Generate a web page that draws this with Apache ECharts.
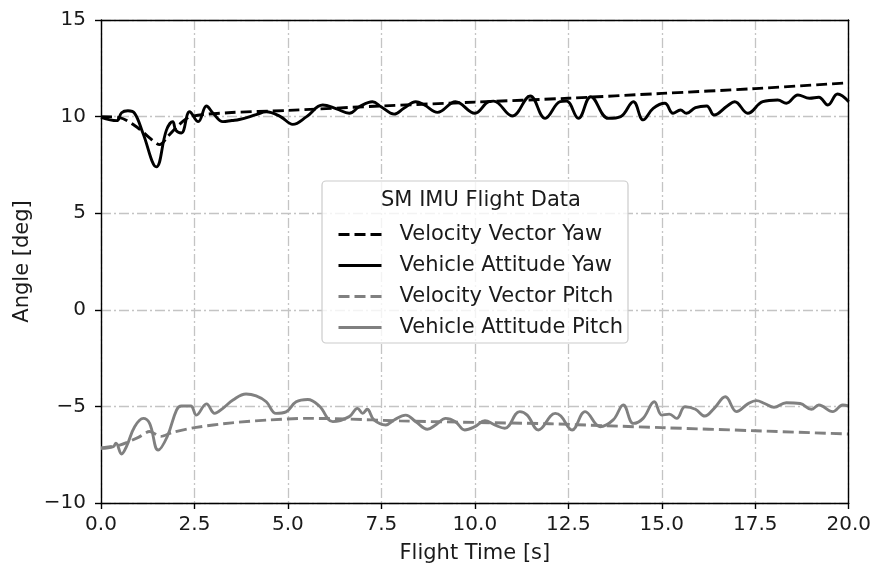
<!DOCTYPE html>
<html>
<head>
<meta charset="utf-8">
<script src="https://cdn.jsdelivr.net/npm/echarts@6/dist/echarts.min.js"></script>
<style>
html,body{margin:0;padding:0;background:#fff;}
#c{width:874px;height:570px;}
</style>
</head>
<body>
<div id="c"></div>
<script>
// ---- Data ----
const legendTitle = 'SM IMU Flight Data';
const seriesNames = ['Velocity Vector Yaw','Vehicle Attitude Yaw','Velocity Vector Pitch','Vehicle Attitude Pitch'];
const xTickLabels = ['0.0','2.5','5.0','7.5','10.0','12.5','15.0','17.5','20.0'];
const yTickLabels = ['\u221210','\u22125','0','5','10','15'];

const velYawT = [0, 0.5, 1.0, 1.3, 1.57, 1.8, 2.1, 2.4, 3.4, 5.0, 7.5, 10.0, 12.5, 15.0, 17.5, 20.0];
const velYawV = [10.0, 9.95, 9.4, 8.9, 8.55, 9.0, 9.6, 10.0, 10.2, 10.32, 10.55, 10.75, 10.95, 11.2, 11.45, 11.75];

const attYawT = [0, 0.42, 0.55, 0.72, 0.9, 1.12, 1.48, 1.75, 1.92, 2.0, 2.15, 2.37, 2.6, 2.82, 3.0, 3.26, 3.5, 3.7, 4.15, 4.42, 4.8, 5.13, 5.5, 5.93, 6.3, 6.64, 6.9, 7.26, 7.5, 7.84, 8.1, 8.42, 8.65, 9.0, 9.48, 10.0, 10.37, 10.5, 11.0, 11.48, 11.88, 12.28, 12.45, 12.77, 13.1, 13.57, 13.9, 14.24, 14.5, 14.77, 15.08, 15.3, 15.5, 15.66, 15.9, 16.2, 16.4, 16.75, 16.95, 17.3, 17.7, 18.1, 18.33, 18.64, 18.95, 19.2, 19.44, 19.7, 20.0];
const attYawV = [9.96, 9.79, 10.2, 10.3, 10.17, 9.15, 7.4, 9.3, 9.74, 9.3, 9.15, 10.25, 9.74, 10.55, 10.17, 9.74, 9.8, 9.85, 10.1, 10.25, 10.0, 9.6, 10.0, 10.6, 10.4, 10.17, 10.5, 10.77, 10.5, 10.13, 10.43, 10.77, 10.6, 10.22, 10.77, 10.17, 10.77, 10.8, 10.03, 11.07, 9.91, 10.77, 10.8, 9.91, 11.03, 9.91, 10.0, 10.77, 9.83, 10.43, 10.69, 10.17, 10.34, 10.17, 10.46, 10.55, 10.08, 10.55, 10.77, 10.17, 10.77, 10.86, 10.69, 11.12, 10.95, 11.0, 10.6, 11.17, 10.77];

const velPitchT = [0, 0.5, 1.0, 1.3, 1.6, 1.9, 2.5, 3.5, 4.5, 5.5, 6.5, 8.0, 10.0, 12.0, 13.5, 15.0, 17.5, 20.0];
const velPitchV = [-7.15, -7.0, -6.6, -6.3, -6.55, -6.35, -6.1, -5.85, -5.7, -5.62, -5.65, -5.75, -5.83, -5.9, -6.0, -6.1, -6.26, -6.43];

const attPitchT = [0, 0.33, 0.4, 0.55, 0.68, 0.9, 1.13, 1.3, 1.53, 1.77, 2.02, 2.15, 2.4, 2.55, 2.82, 3.04, 3.26, 3.53, 3.88, 4.15, 4.42, 4.68, 4.95, 5.22, 5.53, 5.84, 6.2, 6.64, 6.86, 7.0, 7.12, 7.3, 7.62, 7.84, 8.15, 8.42, 8.73, 8.95, 9.22, 9.48, 9.73, 10.0, 10.27, 10.53, 10.8, 11.2, 11.4, 11.7, 12.15, 12.3, 12.6, 12.95, 13.35, 13.7, 13.97, 14.24, 14.5, 14.8, 15.0, 15.2, 15.4, 15.62, 15.9, 16.15, 16.4, 16.7, 17.0, 17.3, 17.53, 17.75, 18.0, 18.33, 18.7, 19.0, 19.2, 19.57, 19.84, 20.0];
const attPitchV = [-7.17, -7.08, -6.9, -7.46, -7.08, -6.05, -5.62, -5.88, -7.26, -6.57, -5.19, -4.98, -4.98, -5.45, -4.87, -5.36, -5.1, -4.67, -4.36, -4.46, -4.76, -5.36, -5.28, -4.76, -4.64, -4.98, -5.79, -5.53, -5.1, -5.36, -5.15, -5.7, -5.96, -5.7, -5.45, -5.79, -6.18, -5.96, -5.62, -5.79, -6.22, -6.05, -5.74, -5.96, -6.13, -5.27, -5.45, -6.22, -5.36, -5.5, -6.22, -5.27, -6.05, -5.7, -4.93, -5.88, -5.62, -4.76, -5.45, -5.4, -5.62, -5.02, -5.15, -5.5, -5.1, -4.5, -5.27, -4.87, -4.7, -4.85, -5.05, -4.81, -4.85, -5.15, -4.93, -5.27, -4.93, -4.98];

function pairs(t, v){ return t.map((x,i)=>[x, v[i]]); }

const FONT = 'DejaVu Sans';
const TXT = '#1a1a1a';
const chart = echarts.init(document.getElementById('c'));
const gridDash = {color:'#c4c4c4', width:1.3, type:[10,3,2,3]};
const frameLine = {show:true, onZero:false, lineStyle:{color:'#000', width:1.4}};

chart.setOption({
  animation:false,
  backgroundColor:'#fff',
  textStyle:{fontFamily:FONT},
  grid:{left:101, right:23, top:20, bottom:67, show:false},
  title:{
    text:legendTitle, left:476, top:185, textAlign:'center',
    textStyle:{fontFamily:FONT, fontSize:21, fontWeight:'normal', color:TXT}, z:10
  },
  legend:{
    orient:'vertical', left:332, top:219, itemWidth:43, itemHeight:21, itemGap:10,
    data:seriesNames, selectedMode:false, z:10,
    itemStyle:{opacity:0, borderWidth:0},
    lineStyle:{width:3},
    textStyle:{fontFamily:FONT, fontSize:21, lineHeight:21, color:TXT, padding:[0,0,0,13]}
  },
  graphic:[{
    type:'rect', shape:{x:322, y:181, width:306, height:162, r:4},
    style:{fill:'rgba(255,255,255,0.8)', stroke:'#cccccc', lineWidth:1.2}, z:5
  }],
  xAxis:[{
    type:'value', min:0, max:20, interval:2.5, position:'bottom',
    name:'Flight Time [s]', nameLocation:'middle', nameGap:40,
    nameTextStyle:{fontFamily:FONT, fontSize:21, color:TXT},
    axisLine:frameLine,
    axisTick:{show:true, length:6, lineStyle:{color:'#000', width:1.4}},
    axisLabel:{fontFamily:FONT, fontSize:20, color:TXT, margin:12,
      formatter:(v)=>{ const i=Math.round(v/2.5); return xTickLabels[i]!==undefined?xTickLabels[i]:''; }},
    splitLine:{show:true, lineStyle:gridDash}
  },{
    type:'value', min:0, max:20, position:'top', z:5,
    axisLine:frameLine, axisTick:{show:false}, axisLabel:{show:false}, splitLine:{show:false}
  }],
  yAxis:[{
    type:'value', min:-10, max:15, interval:5, position:'left',
    name:'Angle [deg]', nameLocation:'middle', nameGap:62, nameRotate:90,
    nameTextStyle:{fontFamily:FONT, fontSize:21, color:TXT},
    axisLine:frameLine,
    axisTick:{show:true, length:6, lineStyle:{color:'#000', width:1.4}},
    axisLabel:{fontFamily:FONT, fontSize:20, color:TXT, margin:15,
      formatter:(v)=>{ const i=Math.round((v+10)/5); return yTickLabels[i]!==undefined?yTickLabels[i]:''; }},
    splitLine:{show:true, lineStyle:gridDash}
  },{
    type:'value', min:-10, max:15, position:'right', z:5,
    axisLine:frameLine, axisTick:{show:false}, axisLabel:{show:false}, splitLine:{show:false}
  }],
  series:[
    {name:seriesNames[0], type:'line', data:pairs(velYawT, velYawV), symbol:'none', smooth:0.3, z:3,
      lineStyle:{color:'#000', width:2.9, type:[11,5]}, itemStyle:{color:'#000'}},
    {name:seriesNames[1], type:'line', data:pairs(attYawT, attYawV), symbol:'none', smooth:0.4, z:3,
      lineStyle:{color:'#000', width:2.9}, itemStyle:{color:'#000'}},
    {name:seriesNames[2], type:'line', data:pairs(velPitchT, velPitchV), symbol:'none', smooth:0.3, z:3,
      lineStyle:{color:'#808080', width:2.9, type:[11,5]}, itemStyle:{color:'#808080'}},
    {name:seriesNames[3], type:'line', data:pairs(attPitchT, attPitchV), symbol:'none', smooth:0.4, z:3,
      lineStyle:{color:'#808080', width:2.9}, itemStyle:{color:'#808080'}}
  ]
});
</script>
</body>
</html>
